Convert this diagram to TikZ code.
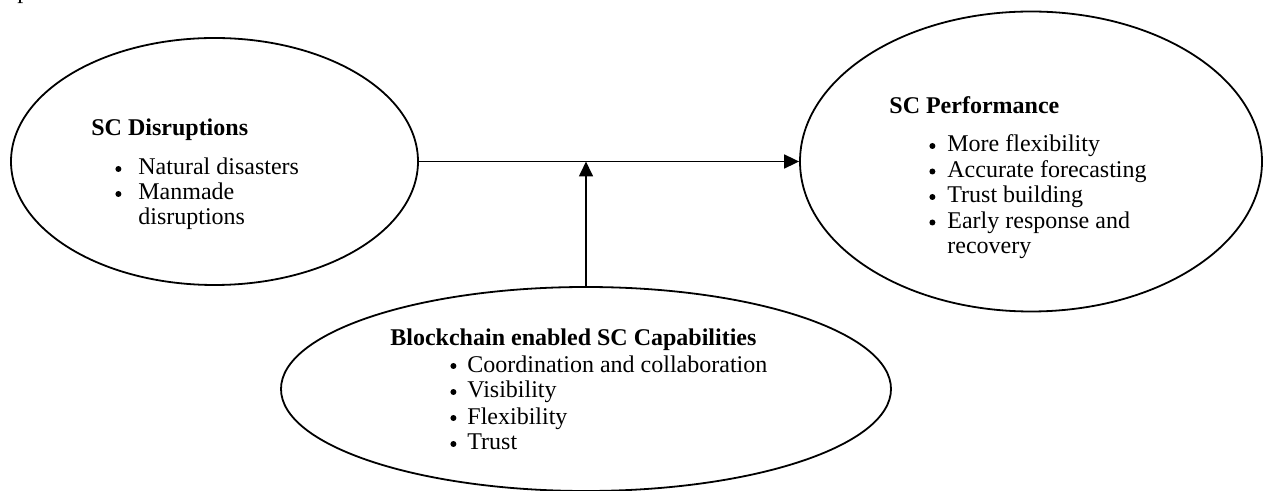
\documentclass[tikz,border=0pt]{standalone}
\usepackage{fontspec}
\setmainfont{Liberation Serif}
\usetikzlibrary{shapes.geometric,arrows.meta}

% round list marker, centred a little above the baseline
\newcommand{\dotmark}{\tikz[baseline=-3pt]\fill (0,0) circle (1.5pt);}

\tikzset{
  bubble/.style={draw, ellipse, line width=0.9pt, inner sep=0pt},
  title/.style={anchor=base west, inner sep=0pt, font=\fontsize{12}{12.5}\selectfont\bfseries},
  itemlist/.style={anchor=base west, inner sep=0pt, font=\fontsize{12}{12.5}\selectfont},
  link/.style={line width=0.85pt, -{Triangle[length=7.5pt,width=7pt]}}
}

\begin{document}
\begin{tikzpicture}[x=0.5pt, y=-0.5pt]
  \useasboundingbox (0,0) rectangle (1263,491);

  % tail of the sentence above the figure
  \node[itemlist] (tail) at (17,-1) {performance.};

  % the three ellipses
  \node[bubble, minimum width=203.5pt, minimum height=123.5pt] (dis) at (214.5,161.5) {};
  \node[bubble, minimum width=231pt, minimum height=150pt] (perf) at (1031,161.5) {};
  \node[bubble, minimum width=305pt, minimum height=102pt] (cap) at (586,389) {};

  % SC Disruptions
  \node[title] (disT) at (91,136) {SC Disruptions};
  \node[itemlist] (disL) at (115,175) {%
    \begin{tabular}[t]{@{}l@{\hspace{8.5pt}}l@{}}
      \dotmark & Natural disasters\\
      \dotmark & Manmade\\
               & disruptions
    \end{tabular}};

  % SC Performance
  \node[title] (perfT) at (889,114) {SC Performance};
  \node[itemlist] (perfL) at (929,152) {%
    \renewcommand{\arraystretch}{1.02}%
    \begin{tabular}[t]{@{}l@{\hspace{6pt}}l@{}}
      \dotmark & More flexibility\\
      \dotmark & Accurate forecasting\\
      \dotmark & Trust building\\
      \dotmark & Early response and\\
               & recovery
    \end{tabular}};

  % Blockchain enabled SC Capabilities
  \node[title] (capT) at (390,346) {Blockchain enabled SC Capabilities};
  \node[itemlist] (capL) at (450,372) {%
    \renewcommand{\arraystretch}{1.04}%
    \begin{tabular}[t]{@{}l@{\hspace{5.5pt}}l@{}}
      \dotmark & Coordination and collaboration\\
      \dotmark & Visibility\\
      \dotmark & Flexibility\\
      \dotmark & Trust
    \end{tabular}};

  % connectors
  \coordinate (meet) at (cap.north |- dis.east);
  \draw[link] (dis.east) -- (dis.east -| perf.west);
  \draw[link] (cap.north) -- (meet);
\end{tikzpicture}
\end{document}
